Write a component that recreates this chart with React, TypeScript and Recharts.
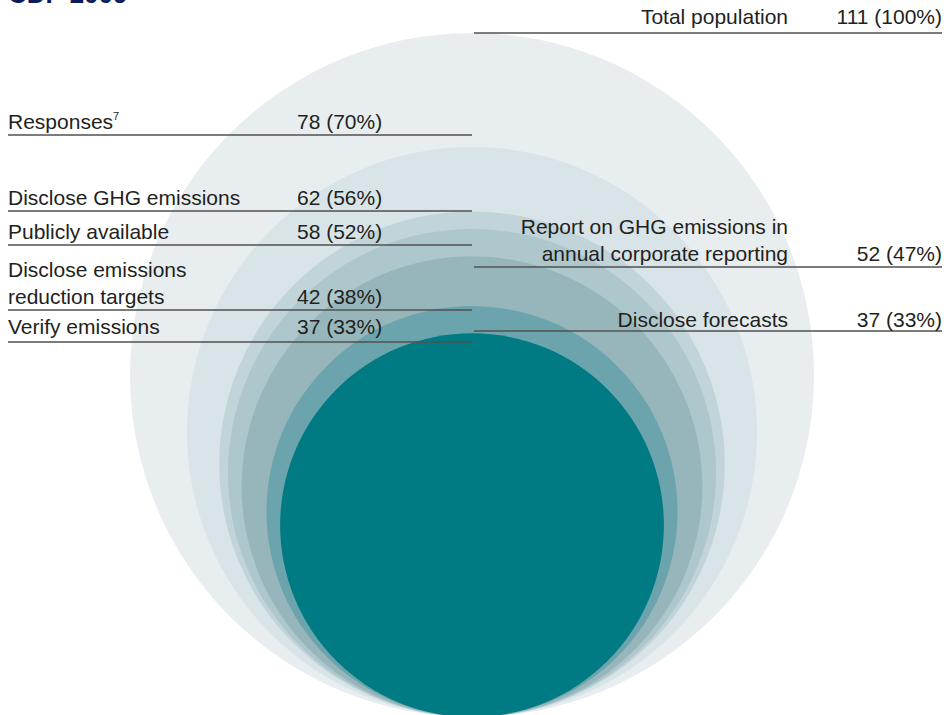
import { ScatterChart, Scatter, XAxis, YAxis, ZAxis } from "recharts";

// circles: distinct counts, largest first
const circleCounts = [111, 78, 62, 58, 52, 42, 37];
const circleColors = ["#e8eef0", "#d8e4e8", "#c0d4d9", "#adc7cc", "#97b6bb", "#6ba4ac", "#007b83"];

// table rows
const rowLabels = [
  ["Total population"],
  ["Responses"],
  ["Disclose GHG emissions"],
  ["Publicly available"],
  ["Report on GHG emissions in", "annual corporate reporting"],
  ["Disclose emissions", "reduction targets"],
  ["Disclose forecasts"],
  ["Verify emissions"],
];
const rowNotes = ["", "7", "", "", "", "", "", ""];
const rowCounts = [111, 78, 62, 58, 52, 42, 37, 37];
const rowShares = [100, 70, 56, 52, 47, 38, 33, 33];

// layout: side, height of the rule above the tangent point, text gap over the rule
const rowSide = ["right", "left", "left", "left", "right", "left", "right", "left"];
const rowHeight = [684, 582, 506, 472, 450, 407, 386, 375];
const rowPad = [9, 6, 6, 6, 6, 6, 4, 8];

const W = 944;
const H = 717;
const MAX_R = 342;
const FONT = "'Liberation Sans', Arial, Helvetica, sans-serif";
const TEXT = "#231f20";

const Bubble = (props: any) => {
  const { cx, cy, width, fill } = props;
  const r = width / 2;
  return <circle cx={cx} cy={cy - r} r={r} fill={fill} />;
};

const RowMark = (props: any) => {
  const { cx, cy, payload } = props;
  if (!payload.anchor) return <g />;
  const i = payload.row;
  const lines = rowLabels[i];
  const note = rowNotes[i];
  const value = `${rowCounts[i]} (${rowShares[i]}%)`;
  const base = cy - rowPad[i];
  const gap = 27;
  const n = lines.length;
  if (rowSide[i] === "left") {
    return (
      <g fontFamily={FONT} fontSize={21} fill={TEXT}>
        {lines.map((l, k) => (
          <text key={k} x={cx} y={base - (n - 1 - k) * gap}>
            {l}
            {note && k === n - 1 ? (
              <tspan fontSize={11} dy={-9}>
                {note}
              </tspan>
            ) : null}
          </text>
        ))}
        <text x={cx + 289} y={base}>
          {value}
        </text>
      </g>
    );
  }
  return (
    <g fontFamily={FONT} fontSize={21} fill={TEXT}>
      {lines.map((l, k) => (
        <text key={k} x={cx - 154} y={base - (n - 1 - k) * gap} textAnchor="end">
          {l}
        </text>
      ))}
      <text x={cx} y={base} textAnchor="end">
        {value}
      </text>
    </g>
  );
};

export default function App() {
  return (
    <div style={{ width: W, height: 715, overflow: "hidden", position: "relative" }}>
      <style>{`body{margin:0}`}</style>
      <ScatterChart width={W} height={H} margin={{ top: 0, right: 0, bottom: 0, left: 0 }}>
        <XAxis type="number" dataKey="x" domain={[-472, 472]} hide />
        <YAxis type="number" dataKey="y" domain={[0, H]} hide />
        <ZAxis type="number" dataKey="z" domain={[3, 111]} range={[0, Math.PI * MAX_R * MAX_R]} />
        {circleCounts.map((c, i) => (
          <Scatter
            key={c}
            data={[{ x: 0, y: 0, z: c }]}
            fill={circleColors[i]}
            shape={Bubble}
            isAnimationActive={false}
          />
        ))}
        {rowLabels.map((_, i) => {
          const left = rowSide[i] === "left";
          const h = rowHeight[i];
          const pts = left
            ? [
                { x: -464, y: h, row: i, anchor: true },
                { x: 0, y: h, row: i, anchor: false },
              ]
            : [
                { x: 2, y: h, row: i, anchor: false },
                { x: 470, y: h, row: i, anchor: true },
              ];
          return (
            <Scatter
              key={`row-${i}`}
              data={pts}
              line={{ stroke: "#505050", strokeWidth: 1.5 }}
              lineType="joint"
              shape={RowMark}
              isAnimationActive={false}
            />
          );
        })}
        <text x={8} y={3} fontFamily={FONT} fontSize={26} fontWeight="bold" fill="#0c1c5a">
          CDP 2009
        </text>
      </ScatterChart>
    </div>
  );
}
